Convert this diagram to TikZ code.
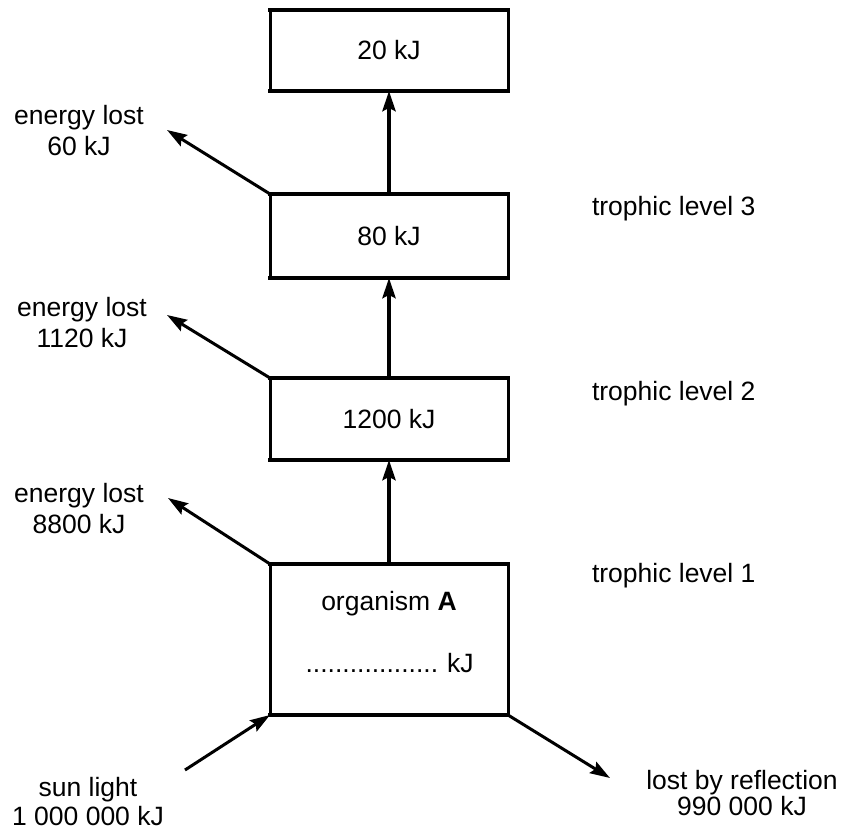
\documentclass[tikz,border=0pt]{standalone}
\usepackage{fontspec}
\setmainfont{Liberation Sans}
\usetikzlibrary{arrows.meta}
\begin{document}
\begin{tikzpicture}[x=1pt,y=-1pt,
  every node/.style={font=\fontsize{26.5}{30}\selectfont, inner sep=0pt, outer sep=0pt},
  level box/.style={draw, line width=3pt, minimum width=238pt, outer sep=0pt},
  box edge/.style={line width=4.2pt, line cap=rect},
  flow/.style={line width=4pt, -{Stealth[length=20pt,width=13pt,inset=3pt]}},
  loss/.style={line width=3pt, -{Stealth[length=20pt,width=13pt,inset=3pt]}},
  side label/.style={align=center},
  two lines/.style={font=\fontsize{26.5}{#1}\selectfont}
]
\useasboundingbox (0,0) rectangle (844,832);

% energy boxes, one per level
\node[level box, minimum height=81pt]  (b20)   at (389,50.5) {20 kJ};
\node[level box, minimum height=84pt]  (b80)   at (389,236)  {80 kJ};
\node[level box, minimum height=82pt]  (b1200) at (389,419)  {1200 kJ};
\node[level box, minimum height=151pt] (bA)    at (389,639.5) {};

% heavier top and bottom edges
\foreach \b in {b20,b80,b1200,bA}{
  \draw[box edge] (\b.north west) -- (\b.north east);
  \draw[box edge] (\b.south west) -- (\b.south east);
}

% text inside the producer box
\node[anchor=base] (orgname) at (389,610) {organism \textbf{A}};
\node[anchor=base] (orgkj)   at (389.5,672) {..................\,\,kJ};

% transfer up the chain
\draw[flow] (bA.north)    -- (b1200.south);
\draw[flow] (b1200.north) -- (b80.south);
\draw[flow] (b80.north)   -- (b20.south);

% energy lost at each level
\coordinate (l60)   at (167,130);
\coordinate (l1120) at (167,315);
\coordinate (l8800) at (168,498);
\draw[loss] (b80.north west)   -- (l60);
\draw[loss] (b1200.north west) -- (l1120);
\draw[loss] (bA.north west)    -- (l8800);

\node[side label, two lines=31] (t60)   at (79,131)   {energy lost\\60 kJ};
\node[side label, two lines=31] (t1120) at (82,322.5) {energy lost\\1120 kJ};
\node[side label, two lines=31] (t8800) at (79,508.5) {energy lost\\8800 kJ};

% sunlight in, reflection out
\coordinate (sunstart) at (185,770);
\coordinate (reflend)  at (610,778);
\draw[loss] (sunstart) -- (bA.south west);
\draw[loss] (bA.south east) -- (reflend);

\node[side label, two lines=29] (tsun)  at (88,801.5)  {sun light\\1 000 000 kJ};
\node[side label, two lines=26] (trefl) at (742,793.5) {lost by reflection\\990 000 kJ};

% trophic level names
\node[anchor=base west] (tl3) at (592,215) {trophic level 3};
\node[anchor=base west] (tl2) at (592,400) {trophic level 2};
\node[anchor=base west] (tl1) at (592,582) {trophic level 1};
\end{tikzpicture}
\end{document}
